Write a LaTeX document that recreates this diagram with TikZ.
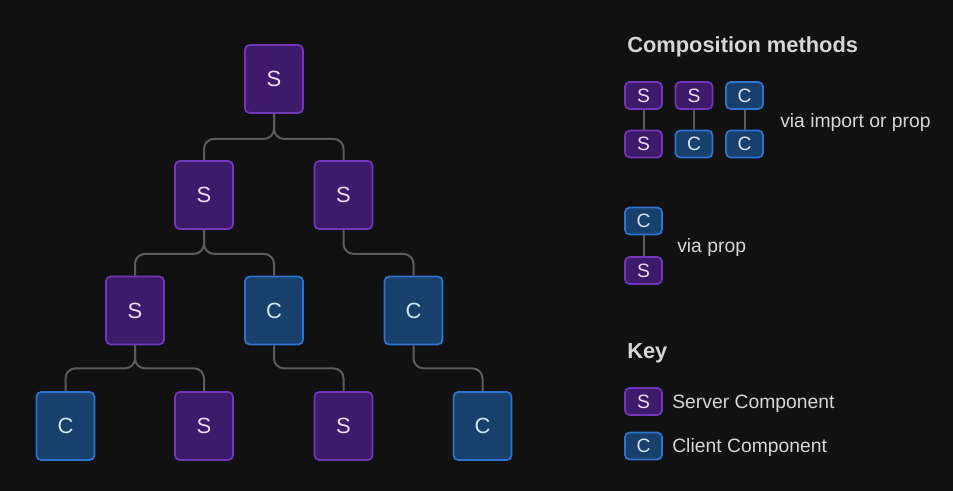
\documentclass[tikz,border=0pt]{standalone}
\usepackage{fontspec}
\setmainfont{Liberation Sans}
\definecolor{bgdark}{HTML}{111111}
\definecolor{srvfill}{HTML}{3E1A6A}
\definecolor{srvline}{HTML}{7236BA}
\definecolor{srvtext}{HTML}{F0DAF6}
\definecolor{clifill}{HTML}{17406C}
\definecolor{cliline}{HTML}{2E74CE}
\definecolor{clitext}{HTML}{D0E6F7}
\definecolor{linkgray}{HTML}{5C5C5C}
\definecolor{labeltext}{HTML}{D6D6D6}
\tikzset{
  srv/.style={draw=srvline,fill=srvfill,text=srvtext,line width=1.3pt,rounded corners=3.5pt,
    minimum width=43.5pt,minimum height=51pt,inner sep=0pt,font=\fontsize{16.5}{16.5}\selectfont},
  cli/.style={srv,draw=cliline,fill=clifill,text=clitext},
  srvsm/.style={srv,minimum width=27.75pt,minimum height=20.25pt,font=\fontsize{14.5}{14.5}\selectfont},
  clism/.style={cli,minimum width=27.75pt,minimum height=20.25pt,font=\fontsize{14.5}{14.5}\selectfont},
  link/.style={draw=linkgray,line width=1.5pt,rounded corners=7.5pt},
  lbl/.style={anchor=west,inner sep=0pt,text=labeltext,font=\fontsize{14.5}{14.5}\selectfont},
  hdr/.style={anchor=base west,inner sep=0pt,text=labeltext,font=\fontsize{16.4}{16.4}\selectfont\bfseries}
}
\begin{document}
\begin{tikzpicture}[x=0.75pt,y=0.75pt,yscale=-1,xscale=1]
\fill[bgdark] (0,0) rectangle (953,491);
% tree
\node[srv] (root) at (274,79) {S};
\node[srv] (sa) at (204,195) {S};
\node[srv] (sb) at (343.5,195) {S};
\node[srv] (saa) at (135,310.5) {S};
\node[cli] (cab) at (274,310.5) {C};
\node[cli] (cba) at (413.5,310.5) {C};
\node[cli] (caaa) at (65.5,426) {C};
\node[srv] (saab) at (204,426) {S};
\node[srv] (saba) at (343.5,426) {S};
\node[cli] (cbaa) at (482.5,426) {C};
\draw[link] (root.south) -- ++(0,25) -| (sa.north);
\draw[link] (root.south) -- ++(0,25) -| (sb.north);
\draw[link] (sa.south) -- ++(0,24) -| (saa.north);
\draw[link] (sa.south) -- ++(0,24) -| (cab.north);
\draw[link] (sb.south) -- ++(0,24) -| (cba.north);
\draw[link] (saa.south) -- ++(0,23) -| (caaa.north);
\draw[link] (saa.south) -- ++(0,23) -| (saab.north);
\draw[link] (cab.south) -- ++(0,23) -| (saba.north);
\draw[link] (cba.south) -- ++(0,23) -| (cbaa.north);
% composition methods
\node[hdr] (title) at (627,53) {Composition methods};
\node[srvsm] (ma) at (643.5,95.5) {S};
\node[srvsm] (mb) at (643.5,144) {S};
\node[srvsm] (mc) at (694,95.5) {S};
\node[clism] (md) at (694,144) {C};
\node[clism] (me) at (744.5,95.5) {C};
\node[clism] (mf) at (744.5,144) {C};
\draw[link] (ma) -- (mb);
\draw[link] (mc) -- (md);
\draw[link] (me) -- (mf);
\node[lbl] (imp) at (780,123) {via import or prop};
\node[clism] (pa) at (643.5,221) {C};
\node[srvsm] (pb) at (643.5,270.5) {S};
\draw[link] (pa) -- (pb);
\node[lbl] (prop) at (677,248) {via prop};
% key
\node[hdr] (key) at (627,359) {Key};
\node[srvsm] (ks) at (643.5,401.5) {S};
\node[lbl] (kst) at (672,404) {Server Component};
\node[clism] (kc) at (643.5,446) {C};
\node[lbl] (kct) at (672,448) {Client Component};
\end{tikzpicture}
\end{document}
